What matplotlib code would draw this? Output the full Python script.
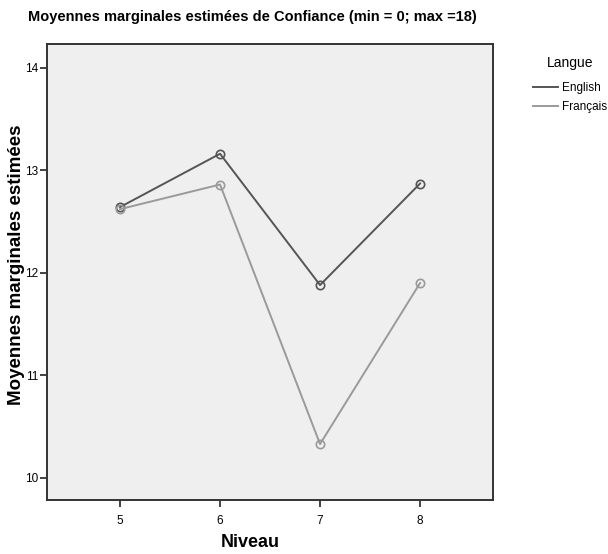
import matplotlib
matplotlib.use("Agg")
import matplotlib.pyplot as plt
from matplotlib.lines import Line2D

plt.rcParams['font.family'] = ['Liberation Sans', 'DejaVu Sans']

# data
niveau = [5, 6, 7, 8]
english = [12.64, 13.16, 11.88, 12.87]
francais = [12.62, 12.86, 10.33, 11.90]
yticks = [10, 11, 12, 13, 14]

c_en = '#555555'
c_fr = '#9a9a9a'

fig = plt.figure(figsize=(6.08, 5.54), dpi=100)
ax = fig.add_axes([0.0773, 0.0975, 0.7337, 0.8231])
ax.set_facecolor('#efefef')

ax.plot(niveau, english, color=c_en, lw=1.4, marker='o', ms=6,
        mfc='none', mec=c_en, mew=1.2)
ax.plot(niveau, francais, color=c_fr, lw=1.4, marker='o', ms=6,
        mfc='none', mec=c_fr, mew=1.2)

ax.set_xlim(4.27, 8.73)
ax.set_ylim(9.785, 14.23)
ax.set_xticks(niveau)
ax.set_yticks(yticks)
ax.tick_params(direction='out', length=5, width=1.2, labelsize=8.5, color='#222222')
ax.tick_params(axis='x', pad=6)
ax.tick_params(axis='y', pad=1.5)
for s in ax.spines.values():
    s.set_linewidth(1.4)
    s.set_color('#333333')

ax.set_xlabel('Niveau', fontsize=13, fontweight='bold')
ax.xaxis.set_label_coords(0.455, -0.075)
ax.set_ylabel('Moyennes marginales estimées', fontsize=13.5, fontweight='bold')
ax.yaxis.set_label_coords(-0.05, 0.515)
fig.text(0.415, 0.969, 'Moyennes marginales estimées de Confiance (min = 0; max =18)',
         ha='center', va='center', fontsize=10.5, fontweight='bold')

handles = [Line2D([], [], color=c_en, lw=1.4), Line2D([], [], color=c_fr, lw=1.4)]
leg = fig.legend(handles, ['English', 'Français'], title='Langue',
                 loc='upper left', bbox_to_anchor=(0.877, 0.899),
                 frameon=False, fontsize=8.5, title_fontsize=10,
                 borderpad=0, borderaxespad=0,
                 handlelength=2.1, handletextpad=0.3, labelspacing=0.55)
leg._legend_box.sep = 9

fig.savefig('out.png', dpi=100)
